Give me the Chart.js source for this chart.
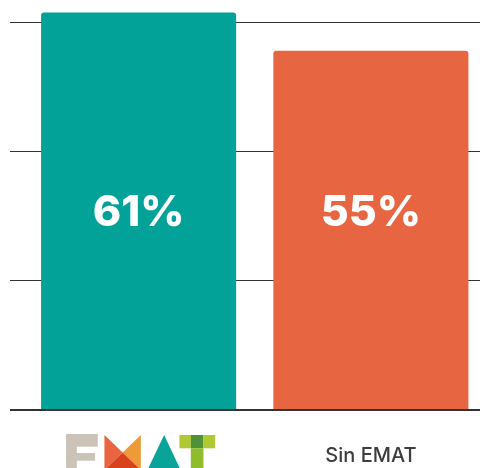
<!DOCTYPE html>
<html>
<head>
<meta charset="utf-8">
<script src="https://cdn.jsdelivr.net/npm/chart.js@4"></script>
<style>
  html, body { margin: 0; padding: 0; background: #fff; overflow: hidden; }
  #wrap { position: absolute; left: 0; top: 0; width: 487px; height: 468px; }
</style>
</head>
<body>
<div id="wrap"><canvas id="chart" width="487" height="468"></canvas></div>
<script>
// Datos
const categories = ['EMAT', 'Sin EMAT'];
const values = [61.6, 55.7];
const valueLabels = ['61%', '55%'];
const barColors = ['#03a299', '#e86542'];
const yTickValues = [0, 20, 40, 60];
const yMax = 62;

// Etiquetas blancas dentro de las barras
const valueLabelPlugin = {
    id: 'valueLabels',
    afterDatasetsDraw(chart) {
        const ctx = chart.ctx;
        const area = chart.chartArea;
        const meta = chart.getDatasetMeta(0);
        ctx.save();
        ctx.fillStyle = '#ffffff';
        ctx.font = '800 43px Inter';
        ctx.textAlign = 'center';
        ctx.textBaseline = 'alphabetic';
        const y = (area.top + area.bottom) / 2 + 16;
        meta.data.forEach((bar, i) => {
            ctx.fillText(valueLabels[i], bar.x, y);
        });
        ctx.restore();
    }
};

// Logo EMAT (primera categoría)
const logoPlugin = {
    id: 'ematLogo',
    afterDraw(chart) {
        const ctx = chart.ctx;
        const x0 = chart.scales.x.getPixelForTick(0) - 72.5;
        const y0 = 434;
        const poly = (color, pts) => {
            ctx.fillStyle = color;
            ctx.beginPath();
            pts.forEach((p, i) => i ? ctx.lineTo(x0 + p[0], y0 + p[1]) : ctx.moveTo(x0 + p[0], y0 + p[1]));
            ctx.closePath();
            ctx.fill();
        };
        const rect = (color, x, y, w, h) => {
            ctx.fillStyle = color;
            ctx.fillRect(x0 + x, y0 + y, w, h);
        };
        ctx.save();
        // E
        rect('#cbc3b7', 0, 0, 10.7, 40);
        rect('#cbc3b7', 0, 0, 31.7, 12.7);
        rect('#cbc3b7', 0, 19, 29, 7.7);
        rect('#cbc3b7', 0, 34, 31.7, 8);
        // M
        poly('#e9643f', [[38.3, 1], [56.5, 18.5], [38.3, 36]]);
        poly('#ee9a36', [[74.7, 1], [56.5, 18.5], [74.7, 36]]);
        poly('#d8411c', [[56.5, 18.5], [38.3, 36], [74.7, 36]]);
        // A
        poly('#0aa39a', [[98, 1], [81.3, 36], [114.5, 36]]);
        // T
        rect('#b0c832', 113.3, 1, 11.4, 13.3);
        rect('#4e9236', 124.7, 1, 12.6, 13.3);
        rect('#b0c832', 137.3, 1, 11.7, 13.3);
        rect('#8fbc2b', 124.7, 14.3, 12.6, 24);
        ctx.restore();
    }
};

const ctx = document.getElementById('chart').getContext('2d');
new Chart(ctx, {
    type: 'bar',
    data: {
        labels: categories,
        datasets: [{
            data: values,
            backgroundColor: barColors,
            borderRadius: { topLeft: 3, topRight: 3 },
            borderSkipped: 'start',
            categoryPercentage: 1,
            barPercentage: 0.84
        }]
    },
    options: {
        responsive: false,
        animation: false,
        layout: { padding: { left: 10, top: 10, right: 0, bottom: 0 } },
        plugins: {
            legend: { display: false },
            tooltip: { enabled: false }
        },
        scales: {
            x: {
                z: 1,
                grid: { display: false, drawTicks: false },
                border: { display: true, color: '#333333', width: 2 },
                ticks: {
                    padding: 34,
                    font: { family: 'Inter', size: 20, weight: '500' },
                    color: (c) => c.index === 0 ? 'rgba(0,0,0,0)' : '#3d3d3d'
                },
                afterFit(scale) { scale.height = 58; }
            },
            y: {
                min: 0,
                max: yMax,
                ticks: { display: false },
                afterBuildTicks(scale) {
                    scale.ticks = yTickValues.map(v => ({ value: v }));
                },
                border: { display: false },
                grid: {
                    color: '#333333',
                    lineWidth: (c) => c.tick && c.tick.value === 0 ? 2 : 1,
                    drawTicks: true,
                    tickLength: 12.5
                }
            }
        }
    },
    plugins: [valueLabelPlugin, logoPlugin]
});
</script>
</body>
</html>
